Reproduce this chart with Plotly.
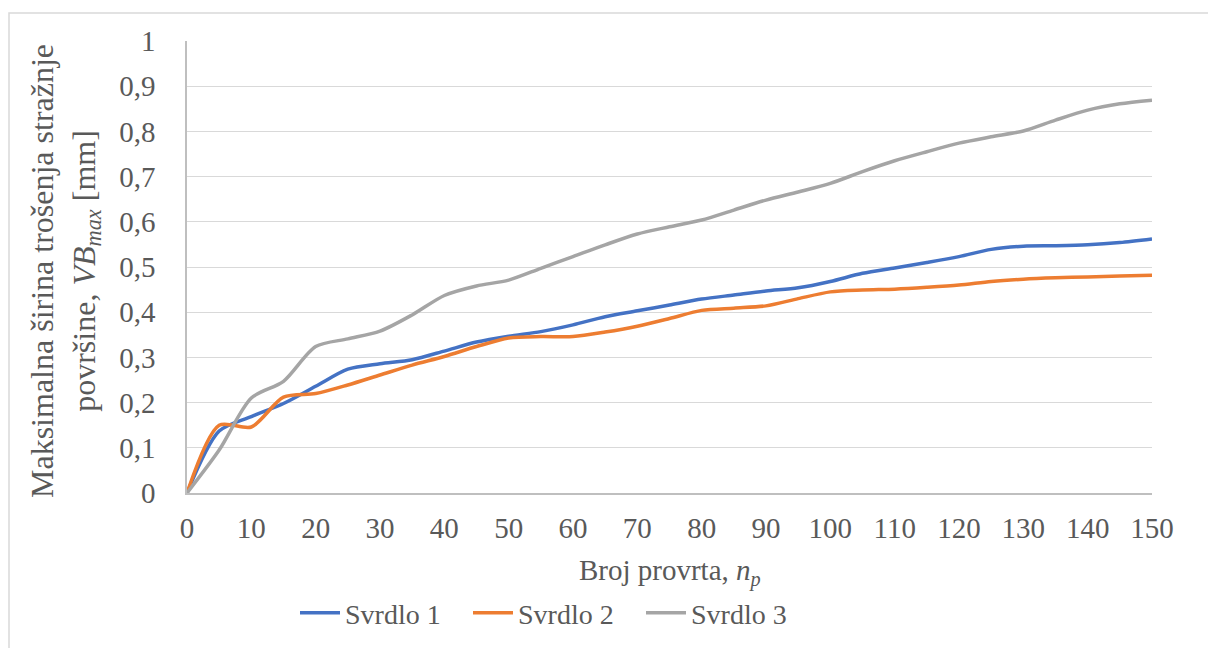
import plotly.graph_objects as go

broj_provrta = [0, 5, 10, 15, 20, 25, 30, 35, 40, 45, 50, 55, 60, 65, 70, 75,
                80, 85, 90, 95, 100, 105, 110, 115, 120, 125, 130, 135, 140, 145, 150]
svrdlo_1 = [0, 0.137, 0.169, 0.198, 0.236, 0.274, 0.286, 0.295, 0.314, 0.334, 0.347,
            0.357, 0.372, 0.390, 0.403, 0.416, 0.429, 0.438, 0.447, 0.454, 0.468,
            0.486, 0.498, 0.510, 0.523, 0.539, 0.546, 0.547, 0.549, 0.554, 0.562]
svrdlo_2 = [0, 0.150, 0.146, 0.212, 0.220, 0.239, 0.261, 0.283, 0.302, 0.324, 0.343,
            0.346, 0.346, 0.356, 0.369, 0.386, 0.404, 0.409, 0.414, 0.430, 0.445,
            0.449, 0.451, 0.455, 0.460, 0.468, 0.473, 0.476, 0.478, 0.480, 0.482]
svrdlo_3 = [0, 0.095, 0.210, 0.247, 0.324, 0.341, 0.358, 0.394, 0.437, 0.458, 0.471,
            0.497, 0.523, 0.549, 0.573, 0.589, 0.604, 0.626, 0.648, 0.666, 0.685,
            0.711, 0.735, 0.755, 0.774, 0.788, 0.801, 0.825, 0.847, 0.861, 0.869]
series_names = ["Svrdlo 1", "Svrdlo 2", "Svrdlo 3"]
colors = ["#4472C4", "#ED7D31", "#A5A5A5"]

x_ticks = list(range(0, 151, 10))
y_ticks = [0, 0.1, 0.2, 0.3, 0.4, 0.5, 0.6, 0.7, 0.8, 0.9, 1]
y_tick_labels = ["0", "0,1", "0,2", "0,3", "0,4", "0,5", "0,6", "0,7", "0,8", "0,9", "1"]

FONT = '"Liberation Serif", "Times New Roman", serif'
TXT = "#595959"

fig = go.Figure()
for name, ys, c in zip(series_names, [svrdlo_1, svrdlo_2, svrdlo_3], colors):
    fig.add_trace(go.Scatter(x=broj_provrta, y=ys, name=name, mode="lines",
                             line=dict(color=c, width=3.5, shape="spline", smoothing=0.8)))

W, H = 1208, 648
L, R, T, B = 187, 56, 41, 155
pw, ph = W - L - R, H - T - B

def px_x(p):
    return (p - L) / pw

def px_y(p):
    return (H - B - p) / ph

fig.update_layout(
    width=W, height=H,
    margin=dict(l=L, r=R, t=T, b=B),
    paper_bgcolor="white", plot_bgcolor="white",
    font=dict(family=FONT, size=29, color=TXT),
    showlegend=True,
    legend=dict(orientation="h", xref="container", yref="container",
                x=295 / W, xanchor="left", y=(H - 613) / H, yanchor="middle",
                font=dict(family=FONT, size=28, color=TXT),
                entrywidth=118, itemwidth=40, bgcolor="rgba(0,0,0,0)"),
    xaxis=dict(range=[0, 150], tickvals=x_ticks, showgrid=False,
               showline=True, linecolor="#BFBFBF", linewidth=1.5,
               zeroline=False, ticks="", ticklabelstandoff=8,
               tickfont=dict(family=FONT, size=29, color=TXT)),
    yaxis=dict(range=[0, 1], tickvals=y_ticks, ticktext=y_tick_labels,
               showgrid=True, gridcolor="#D9D9D9", gridwidth=1.3,
               showline=True, linecolor="#BFBFBF", linewidth=1.5,
               zeroline=False, ticks="", ticklabelstandoff=24,
               tickfont=dict(family=FONT, size=29, color=TXT)),
    annotations=[
        dict(text="Broj provrta, <i>n<sub>p</sub></i>", xref="paper", yref="paper",
             x=0.5, y=px_y(572), xanchor="center", yanchor="middle", showarrow=False,
             font=dict(family=FONT, size=29, color=TXT)),
        dict(text="Maksimalna širina trošenja stražnje<br>površine, <i>VB<sub>max</sub></i> [mm]",
             xref="paper", yref="paper", x=px_x(65), y=px_y(271),
             xanchor="center", yanchor="middle", textangle=-90, showarrow=False,
             font=dict(family=FONT, size=32, color=TXT)),
    ],
    shapes=[dict(type="rect", xref="paper", yref="paper",
                 x0=px_x(9), x1=px_x(1215), y0=px_y(655), y1=px_y(13),
                 line=dict(color="#D9D9D9", width=1.5), fillcolor="rgba(0,0,0,0)",
                 layer="below")],
)

fig.write_html("out.html", config={"displayModeBar": False},
               post_script="document.body.style.margin='0';document.body.style.overflow='hidden';")
